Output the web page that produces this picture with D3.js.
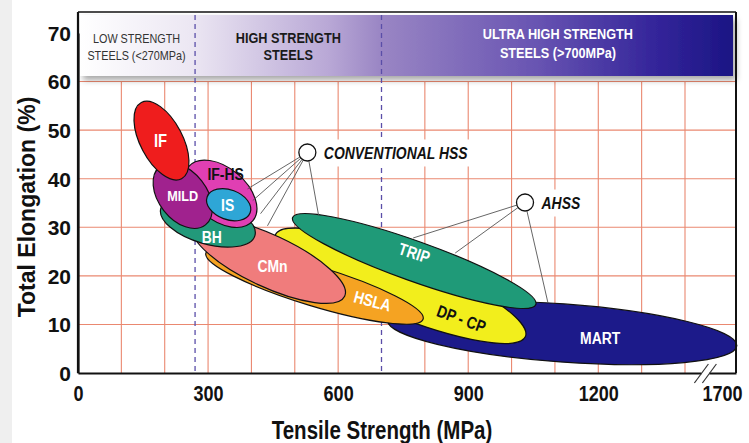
<!DOCTYPE html>
<html>
<head>
<meta charset="utf-8">
<script src="https://cdn.jsdelivr.net/npm/d3@7"></script>
<style>
  html, body { margin: 0; padding: 0; background: #fff; }
  svg { display: block; font-family: "Liberation Sans", Arial, sans-serif; }
</style>
</head>
<body>
<svg id="chart" width="749" height="443"></svg>
<script>
// ---- data ----
const xTicks = [0, 300, 600, 900, 1200, 1700];
const yTicks = [0, 10, 20, 30, 40, 50, 60, 70];
const gridX = [100, 200, 300, 400, 500, 600, 800, 900, 1000, 1100, 1200, 1300, 1400];
const gridY = [10, 20, 30, 40, 50, 60];
const classLimits = [270, 700];
const axisBreak = 1520;

const bandEdges = [0, 270, 700, 1690];
const bandLines = [
    ["LOW STRENGTH", "STEELS (<270MPa)"],
    ["HIGH STRENGTH", "STEELS"],
    ["ULTRA HIGH STRENGTH", "STEELS (>700MPa)"]
];

// steel families, drawn back to front: ends of the long axis (MPa, %) and width/length ratio
const steels      = ["MART", "DP - CP", "TRIP", "HSLA", "CMn", "BH", "IF-HS", "MILD", "IS", "IF"];
const startMPa    = [714, 455, 495, 295, 264, 191, 255, 189, 298, 146];
const startElong  = [10.9, 28.4, 32.0, 24.7, 30.4, 33.9, 42.5, 42.5, 36.3, 55.7];
const endMPa      = [1705, 1032, 1056, 796, 615, 408, 403, 294, 397, 239];
const endElong    = [5.6, 7.5, 14.1, 11.1, 15.8, 28.3, 31.3, 30.5, 33.0, 40.0];
const widthRatio  = [0.166, 0.22, 0.155, 0.175, 0.31, 0.45, 0.62, 0.65, 0.65, 0.49];

// callouts
const groups       = ["CONVENTIONAL HSS", "AHSS"];
const groupMPa     = [529, 1031];
const groupElong   = [45.4, 35.1];
const pointerMPa   = [[391, 403, 421, 437, 555], [773, 870, 1084]];
const pointerElong = [[37.9, 35.5, 32.8, 30.3, 32.4], [27.8, 24.7, 14.4]];

// ---- styles ----
const steelColor = {
    "MART": "#1c1a8a", "DP - CP": "#f2ee1c", "TRIP": "#1f9a78", "HSLA": "#f5a322",
    "CMn": "#f07c7c", "BH": "#22997a", "IF-HS": "#e03fb3", "MILD": "#a0228e",
    "IS": "#2ea6d6", "IF": "#ef1d1d"
};
const steelLabel = {
    "MART":    {dx: 38, dy: 5, rot: 0, fill: "#fff"},
    "DP - CP": {dx: 61, dy: 33, rot: 20, fill: "#111"},
    "TRIP":    {dx: 0, dy: -8, rot: 18, fill: "#fff"},
    "HSLA":    {dx: 58, dy: 15, rot: 15, fill: "#fff"},
    "CMn":     {dx: 4, dy: 5, rot: 0, fill: "#fff"},
    "BH":      {dx: 4, dy: 15, rot: 0, fill: "#fff"},
    "IF-HS":   {dx: 5, dy: -20, rot: 0, fill: "#111"},
    "MILD":    {dx: 0, dy: 0, rot: 0, fill: "#fff", size: 15.5},
    "IS":      {dx: -1, dy: 0, rot: 0, fill: "#fff"},
    "IF":      {dx: -1, dy: 0, rot: 0, fill: "#fff", size: 18}
};
const NARROW = 0.82;
const gridColor = "#ea8870";
const limitColor = "#5a4ea8";

const svg = d3.select("#chart");
const W = 749, H = 443;
const plotLeft = 78, plotRight = 736, plotTop = 12;

const x = d3.scaleLinear().domain([0, 1400, 1700]).range([plotLeft, 685, plotRight]);
const y = d3.scaleLinear().domain([0, 70]).range([373, 33]);
const plotBottom = y(0);

// text helper: Arial-like font, optionally squeezed to look like a narrow face
function putText(g, txt, px, py, o) {
    const sx = o.narrow ? NARROW : 1;
    return g.append("text")
        .attr("transform", `translate(${px},${py}) rotate(${o.rot || 0}) scale(${sx},1)`)
        .attr("text-anchor", o.anchor || "middle")
        .attr("dy", "0.35em")
        .attr("fill", o.fill || "#111")
        .style("font-size", o.size + "px")
        .style("font-weight", o.weight || "bold")
        .style("font-style", o.italic ? "italic" : "normal")
        .text(txt);
}

// page edge
svg.append("rect").attr("width", W).attr("height", H).attr("fill", "#fff");
svg.append("rect").attr("width", 12).attr("height", H).attr("fill", "#efefef");

const defs = svg.append("defs");
const grad = defs.append("linearGradient").attr("id", "bandGrad")
    .attr("x1", "0%").attr("x2", "100%").attr("y1", "0%").attr("y2", "0%");
[[0, "#ffffff"], [0.17, "#ece7f3"], [0.38, "#b9a8d6"], [0.46, "#9a86c4"],
 [0.7, "#6854b2"], [0.88, "#34259a"], [1, "#1b1584"]]
    .forEach(([o, c]) => grad.append("stop").attr("offset", o).attr("stop-color", c));
const shadow = defs.append("filter").attr("id", "shadow")
    .attr("x", "-5%").attr("y", "-20%").attr("width", "115%").attr("height", "160%");
shadow.append("feDropShadow").attr("dx", 3).attr("dy", 4)
    .attr("stdDeviation", 3).attr("flood-color", "#000").attr("flood-opacity", 0.35);

// grid
const grid = svg.append("g").attr("id", "grid");
grid.selectAll("line.gx").data(gridX).join("line")
    .attr("x1", d => x(d)).attr("x2", d => x(d))
    .attr("y1", plotBottom).attr("y2", y(60))
    .attr("stroke", gridColor).attr("stroke-width", 1.1);
grid.selectAll("line.gy").data(gridY).join("line")
    .attr("x1", plotLeft).attr("x2", plotRight)
    .attr("y1", d => y(d)).attr("y2", d => y(d))
    .attr("stroke", gridColor).attr("stroke-width", 1.1);

// strength class banner
const band = svg.append("g").attr("id", "band");
band.append("rect")
    .attr("x", plotLeft + 2).attr("y", plotTop + 3)
    .attr("width", plotRight - plotLeft - 5).attr("height", 61)
    .attr("fill", "url(#bandGrad)")
    .attr("filter", "url(#shadow)");
const bandStyle = [
    {fill: "#333", weight: "normal", size: 13.2, y0: 38, gap: 17},
    {fill: "#1a1a1a", weight: "bold", size: 15.5, y0: 38, gap: 17},
    {fill: "#fff", weight: "bold", size: 15.5, y0: 34, gap: 19}
];
bandLines.forEach((lines, i) => {
    const cx = (x(bandEdges[i]) + x(bandEdges[i + 1])) / 2;
    const st = bandStyle[i];
    lines.forEach((t, j) => putText(band, t, cx, st.y0 + j * st.gap,
        {size: st.size, weight: st.weight, fill: st.fill, narrow: true}));
});

// class limits
svg.append("g").selectAll("line").data(classLimits).join("line")
    .attr("x1", d => x(d)).attr("x2", d => x(d))
    .attr("y1", plotTop + 3).attr("y2", plotBottom)
    .attr("stroke", limitColor).attr("stroke-width", 1.3)
    .attr("stroke-dasharray", "5,4");

// steel regions
const regions = svg.append("g").attr("id", "regions");
steels.forEach((name, i) => {
    const x1 = x(startMPa[i]), y1 = y(startElong[i]);
    const x2 = x(endMPa[i]), y2 = y(endElong[i]);
    const cx = (x1 + x2) / 2, cy = (y1 + y2) / 2;
    const a = Math.hypot(x2 - x1, y2 - y1) / 2;
    const ang = Math.atan2(y2 - y1, x2 - x1) * 180 / Math.PI;
    regions.append("ellipse")
        .attr("cx", cx).attr("cy", cy)
        .attr("rx", a).attr("ry", a * widthRatio[i])
        .attr("transform", `rotate(${ang},${cx},${cy})`)
        .attr("fill", steelColor[name])
        .attr("stroke", "#111").attr("stroke-width", 1.2);
});
steels.forEach((name, i) => {
    const cx = (x(startMPa[i]) + x(endMPa[i])) / 2;
    const cy = (y(startElong[i]) + y(endElong[i])) / 2;
    const l = steelLabel[name];
    putText(regions, name, cx + l.dx, cy + l.dy,
        {size: l.size || 17, fill: l.fill, rot: l.rot, narrow: true});
});

// callouts
const notes = svg.append("g").attr("id", "callouts");
groups.forEach((name, i) => {
    const cx = x(groupMPa[i]), cy = y(groupElong[i]);
    const r = 8.5;
    pointerMPa[i].forEach((m, j) => {
        const tx = x(m), ty = y(pointerElong[i][j]);
        const d = Math.hypot(tx - cx, ty - cy);
        notes.append("line")
            .attr("x1", cx + (tx - cx) * r / d).attr("y1", cy + (ty - cy) * r / d)
            .attr("x2", tx).attr("y2", ty)
            .attr("stroke", "#555").attr("stroke-width", 0.9);
    });
    const tx0 = cx + r + 8;
    const box = notes.append("rect").attr("fill", "#fff");
    const t = putText(notes, name, tx0, cy + 1,
        {size: 17, italic: true, anchor: "start", narrow: true});
    const w = t.node().getComputedTextLength() * NARROW;
    box.attr("x", tx0 - 3).attr("y", cy - 13).attr("width", w + 8).attr("height", 27);
    notes.append("circle").attr("cx", cx).attr("cy", cy).attr("r", r)
        .attr("fill", "#fff").attr("stroke", "#111").attr("stroke-width", 1.3);
});

// frame and axes
const frame = svg.append("g").attr("id", "frame");
frame.append("line").attr("x1", plotLeft).attr("x2", plotRight).attr("y1", plotTop).attr("y2", plotTop)
    .attr("stroke", "#111").attr("stroke-width", 1.5);
frame.append("line").attr("x1", plotRight).attr("x2", plotRight).attr("y1", plotTop).attr("y2", plotBottom)
    .attr("stroke", "#111").attr("stroke-width", 2);

const xAxis = svg.append("g")
    .attr("transform", `translate(0,${plotBottom})`)
    .call(d3.axisBottom(x).tickValues(xTicks).tickSize(0).tickPadding(0).tickFormat(d3.format("d")));
xAxis.select(".domain").attr("stroke", "#111").attr("stroke-width", 2.2);
xAxis.selectAll(".tick text").remove();
const lastTick = xTicks[xTicks.length - 1];
xAxis.selectAll(".tick").each(function (d) {
    // the last label sits left of its tick so it stays on the page
    const shift = d === lastTick ? -14 : 0;
    putText(d3.select(this), d, shift, 20, {size: 22, narrow: true});
});

const yAxis = svg.append("g")
    .attr("transform", `translate(${plotLeft},0)`)
    .call(d3.axisLeft(y).tickValues(yTicks).tickSize(0).tickPadding(0));
yAxis.select(".domain").attr("stroke", "#111").attr("stroke-width", 2.2);
yAxis.selectAll(".tick text").remove();
yAxis.selectAll(".tick").each(function (d) {
    putText(d3.select(this), d, -7, 0, {size: 21, anchor: "end"});
});
// the axis domain stops at 70; carry the left edge up to the frame top
frame.append("line").attr("x1", plotLeft).attr("x2", plotLeft).attr("y1", plotTop).attr("y2", plotBottom)
    .attr("stroke", "#111").attr("stroke-width", 2.2);

// axis break
const bx = x(axisBreak);
const brk = svg.append("g").attr("id", "break");
brk.append("rect").attr("x", bx - 4).attr("y", plotBottom - 3).attr("width", 8).attr("height", 6).attr("fill", "#fff");
[-4, 4].forEach(o => brk.append("line")
    .attr("x1", bx + o - 7).attr("y1", plotBottom + 10)
    .attr("x2", bx + o + 7).attr("y2", plotBottom - 9)
    .attr("stroke", "#333").attr("stroke-width", 1.2));

// titles
putText(svg, "Tensile Strength (MPa)", 382, 430, {size: 25, narrow: true});
putText(svg, "Total Elongation (%)", 27, 207, {size: 23, rot: -90});
</script>
</body>
</html>
